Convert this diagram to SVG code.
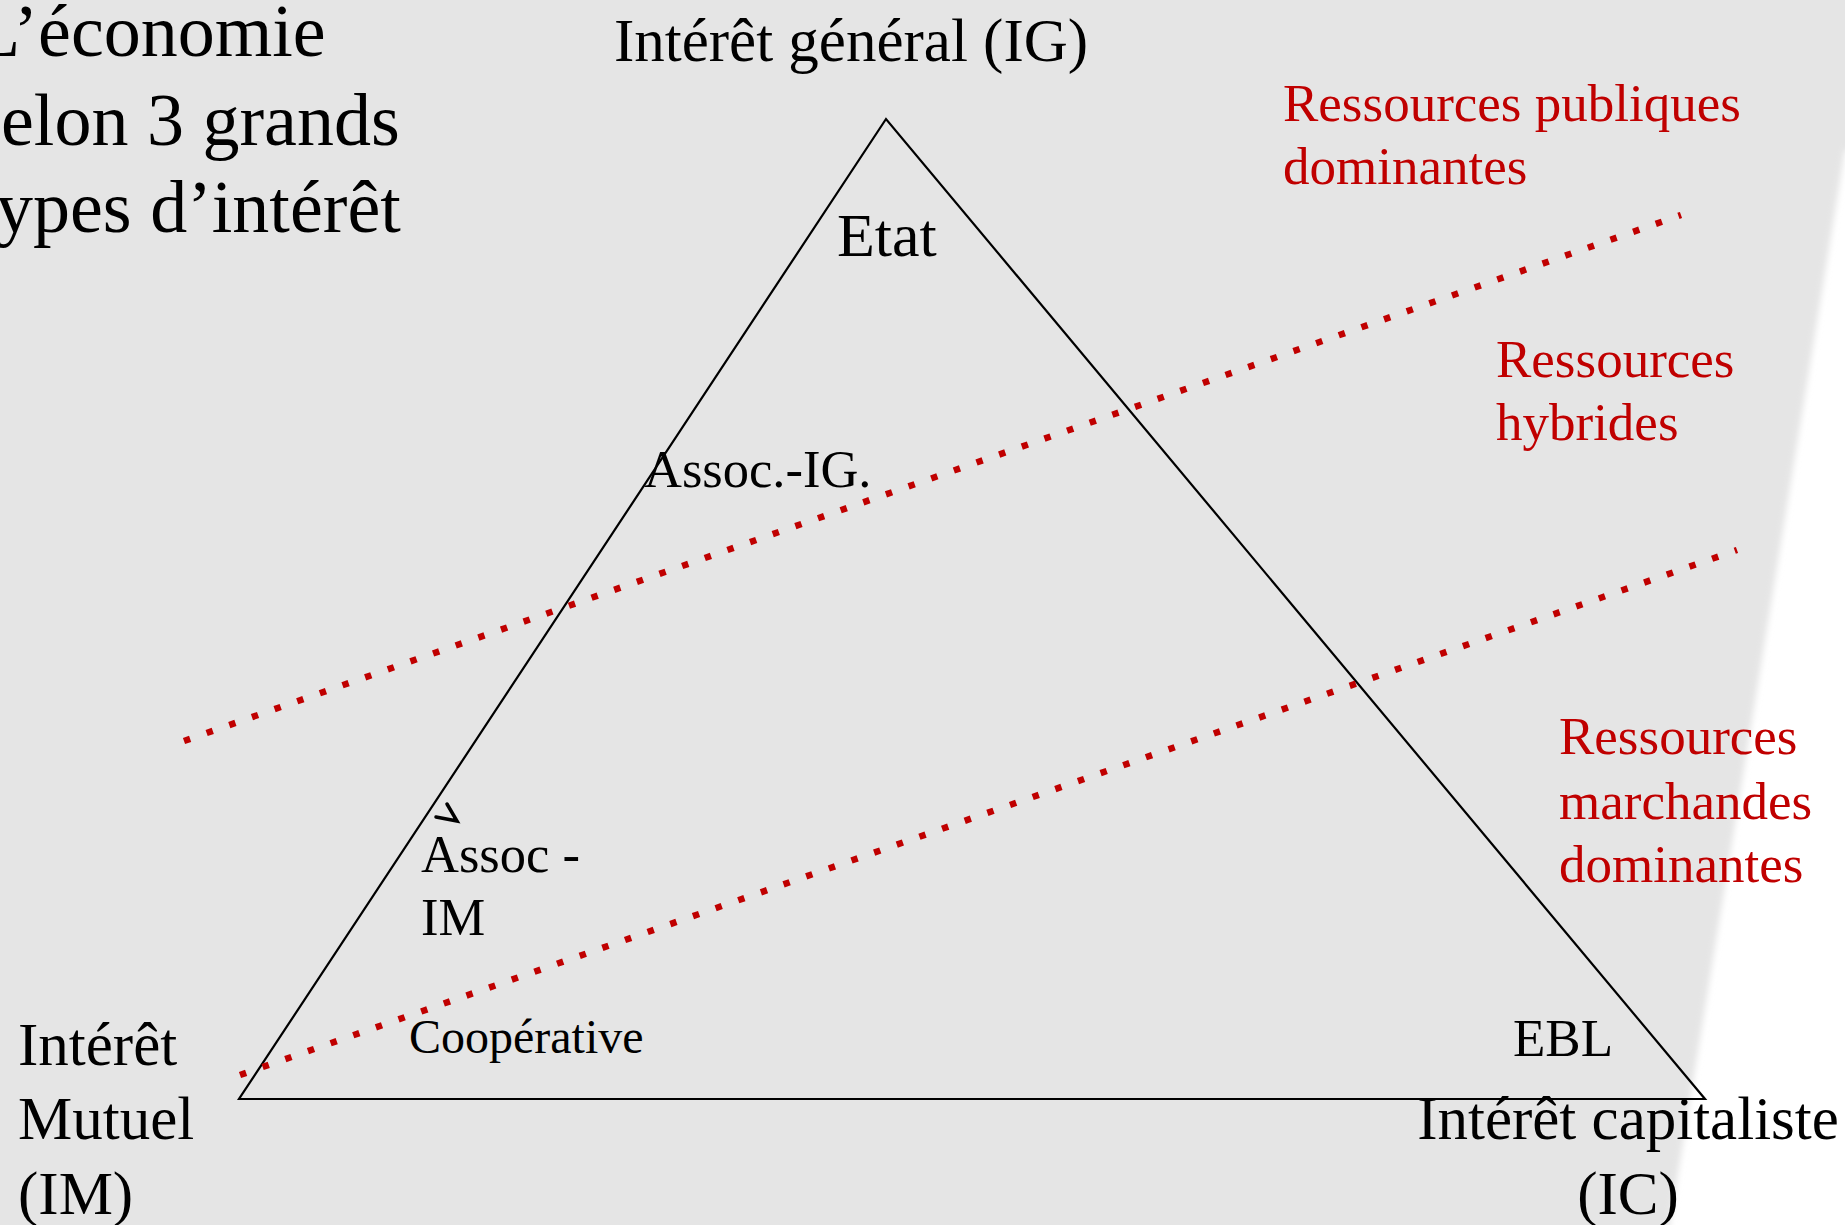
<svg xmlns="http://www.w3.org/2000/svg" width="1845" height="1225" viewBox="0 0 1845 1225">
  <defs>
    <filter id="soft" x="-5%" y="-5%" width="110%" height="110%">
      <feGaussianBlur stdDeviation="3"/>
    </filter>
    <style>
      .t { font-family: "Liberation Serif", "Times New Roman", serif; fill: #000; }
      .r { font-family: "Liberation Serif", "Times New Roman", serif; fill: #c00000; font-size: 53px; }
      .dot { fill: none; stroke: #c00000; stroke-width: 6.5; stroke-dasharray: 6.5 17.5; }
      .edge { fill: none; stroke: #000; stroke-width: 2.2; stroke-linejoin: miter; }
    </style>
  </defs>
  <rect x="0" y="0" width="1845" height="1225" fill="#ffffff"/>
  <path d="M-10,-10 H1860 V150 L1845,150 L1668,1235 H-10 Z" fill="#e5e5e5" filter="url(#soft)"/>

  <g id="title">
    <text class="t" font-size="74" x="-25" y="56">L’économie</text>
    <text class="t" font-size="74" x="1" y="145">elon 3 grands</text>
    <text class="t" font-size="74" x="-4" y="232">ypes d’intérêt</text>
  </g>

  <g id="triangle">
    <polygon class="edge" points="886,119 239,1099 1705,1099"/>
  </g>

  <g id="connectors">
    <line class="dot" x1="184" y1="741" x2="1681" y2="215"/>
    <line class="dot" x1="240" y1="1075" x2="1737" y2="550"/>
  </g>

  <g id="node-ig">
    <text class="t" font-size="61" x="851" y="61" text-anchor="middle">Intérêt général (IG)</text>
  </g>
  <g id="node-etat">
    <text class="t" font-size="62" x="837" y="256">Etat</text>
  </g>
  <g id="node-assoc-ig">
    <text class="t" font-size="52.5" x="644" y="487">Assoc.-IG.</text>
  </g>
  <g id="node-assoc-im">
    <polyline points="447,804 457,821 436,817" fill="none" stroke="#000" stroke-width="3.5" stroke-linecap="round" stroke-linejoin="miter"/>
    <text class="t" font-size="52.5" x="421" y="872">Assoc -</text>
    <text class="t" font-size="52.5" x="421" y="935">IM</text>
  </g>
  <g id="node-coop">
    <text class="t" font-size="48" x="409" y="1053">Coopérative</text>
  </g>
  <g id="node-ebl">
    <text class="t" font-size="53" x="1513" y="1056">EBL</text>
  </g>
  <g id="node-im">
    <text class="t" font-size="61" x="18" y="1065">Intérêt</text>
    <text class="t" font-size="61" x="18" y="1139">Mutuel</text>
    <text class="t" font-size="61" x="18" y="1214">(IM)</text>
  </g>
  <g id="node-ic">
    <text class="t" font-size="61" x="1628" y="1139" text-anchor="middle">Intérêt capitaliste</text>
    <text class="t" font-size="61" x="1628" y="1214" text-anchor="middle">(IC)</text>
  </g>

  <g id="label-publiques">
    <text class="r" x="1283" y="121">Ressources publiques</text>
    <text class="r" x="1283" y="184">dominantes</text>
  </g>
  <g id="label-hybrides">
    <text class="r" x="1496" y="377">Ressources</text>
    <text class="r" x="1496" y="440">hybrides</text>
  </g>
  <g id="label-marchandes">
    <text class="r" x="1559" y="754">Ressources</text>
    <text class="r" x="1559" y="819">marchandes</text>
    <text class="r" x="1559" y="882">dominantes</text>
  </g>
</svg>
